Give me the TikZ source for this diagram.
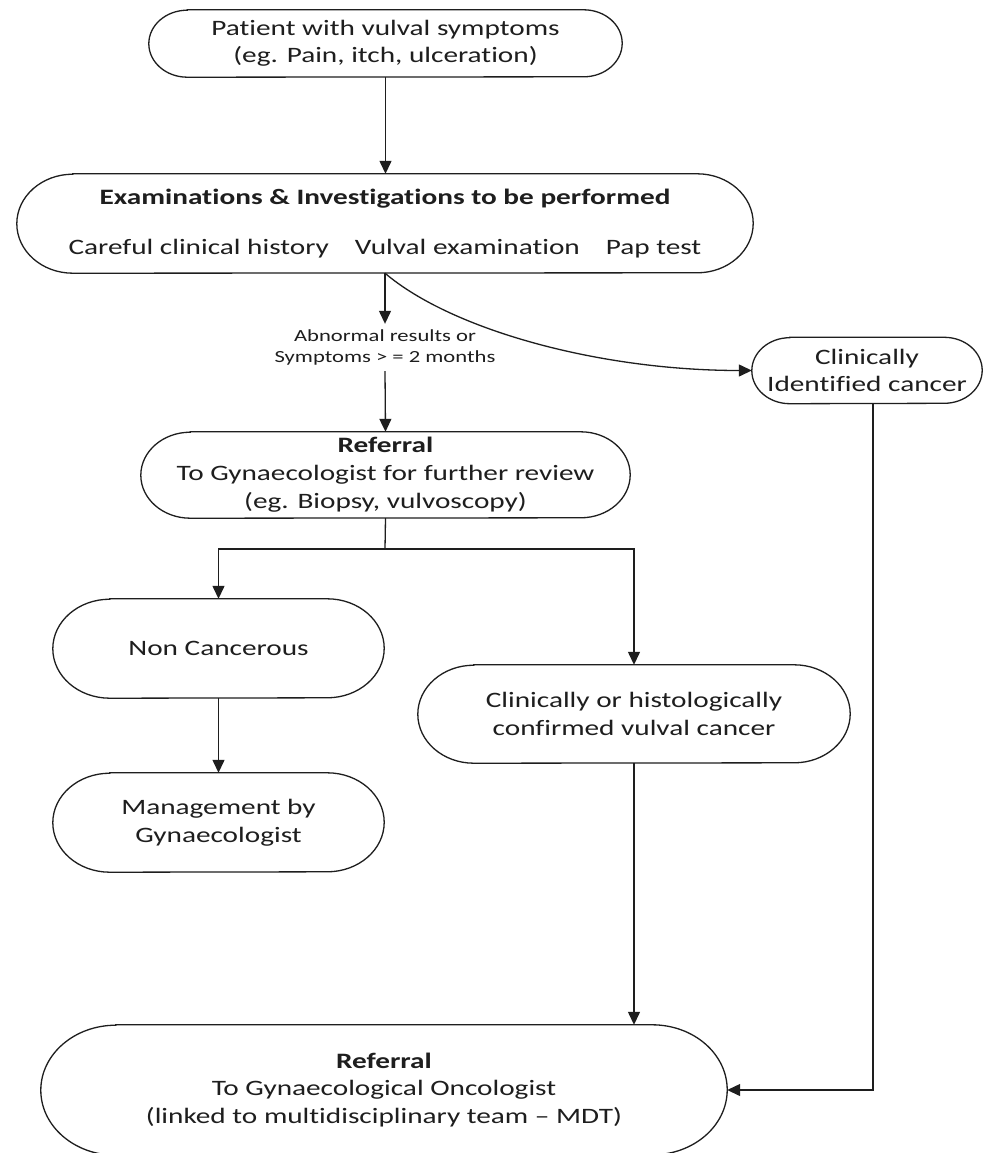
\documentclass[tikz,border=0pt]{standalone}
\usepackage{fontspec}
\setmainfont{Carlito}[FakeStretch=1.33,Ligatures=NoCommon]
\usetikzlibrary{arrows.meta,calc}
\definecolor{ink}{HTML}{1E1E1E}
\tikzset{
  lbl/.style={inner sep=0pt, align=center, text=ink, font=\fontsize{22}{27.5}\selectfont},
  ln/.style={draw=ink, line width=1.3pt},
  arr/.style={ln, -{Triangle[length=13pt,width=12pt]}},
  small/.style={inner sep=0pt, align=center, text=ink, font=\fontsize{17}{21.5}\selectfont},
}
\newcommand\stad[3]{%
  \draw[ln] ([xshift=#3pt]#1.north west) -- ([xshift=-#3pt]#1.north east)
    arc[start angle=90,end angle=-90,x radius=#3pt,y radius=#2pt]
    -- ([xshift=#3pt]#1.south west)
    arc[start angle=270,end angle=90,x radius=#3pt,y radius=#2pt] -- cycle;}
\begin{document}
\begin{tikzpicture}[x=1pt,y=-1pt]
\useasboundingbox (0,0) rectangle (988,1153);
\fill[white] (0,0) rectangle (988,1153);

\node[lbl, minimum width=473pt, minimum height=67pt] (p) at (385.5,43.5)
  {Patient with vulval symptoms\\(eg. Pain, itch, ulceration)};
\stad{p}{33.5}{38.5}

\node[lbl, minimum width=736pt, minimum height=99pt] (e) at (385,223.5)
  {\textbf{Examinations \& Investigations to be performed}\\[22.5pt]Careful clinical history\hspace{26pt}Vulval examination\hspace{26pt}Pap test};
\stad{e}{49.5}{56}

\node[small, minimum height=47pt] (lab) at (385,347.5)
  {Abnormal results or\\Symptoms > = 2 months};

\node[lbl, minimum width=489pt, minimum height=86pt, font=\fontsize{22}{28}\selectfont] (r) at (385.5,475)
  {\textbf{Referral}\\To Gynaecologist for further review\\(eg. Biopsy, vulvoscopy)};
\stad{r}{43}{49.5}

\node[lbl, minimum width=230pt, minimum height=66pt] (c) at (867,370.5)
  {Clinically\\Identified cancer};
\stad{c}{33}{38}

\node[lbl, minimum width=331pt, minimum height=99pt] (n) at (218.5,648.5)
  {Non Cancerous};
\stad{n}{49.5}{57}

\node[lbl, minimum width=331pt, minimum height=99pt] (m) at (218.5,822.5)
  {Management by\\Gynaecologist};
\stad{m}{49.5}{57}

\node[lbl, minimum width=432pt, minimum height=98pt] (cc) at (634,714)
  {Clinically or histologically\\confirmed vulval cancer};
\stad{cc}{49}{56}

\node[lbl, minimum width=686pt, minimum height=130pt] (f) at (384,1090)
  {\textbf{Referral}\\To Gynaecological Oncologist\\(linked to multidisciplinary team {\textendash} MDT)};
\stad{f}{65}{75}

\coordinate (br) at (385,549);

\draw[arr] (p.south) -- (p.south |- e.north);
\draw[arr] (e.south) -- (lab.north);
\draw[arr] (lab.south) -- (r.north);
\draw[arr] (e.south) .. controls +(67,57) and +(-152,0) .. (c.west);
\draw[ln] (r.south) -- (br);
\draw[arr] (br) -| (n.north);
\draw[arr] (br) -| (cc.north);
\draw[arr] (n.south) -- (m.north);
\draw[arr] (cc.south) -- (cc.south |- f.north);
\draw[arr] ([xshift=6pt]c.south) |- (f.east);
\end{tikzpicture}
\end{document}
